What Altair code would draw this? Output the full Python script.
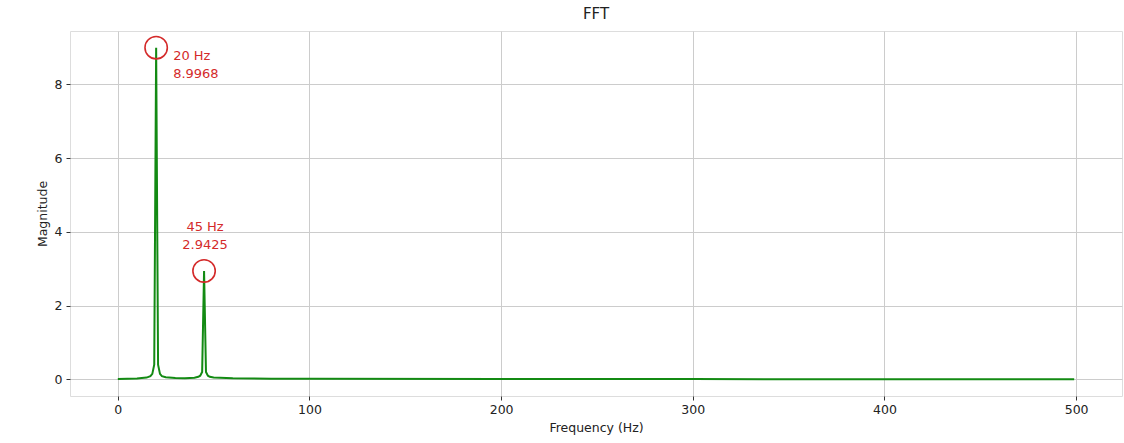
import altair as alt
import pandas as pd

# Spectrum (frequency in Hz, magnitude)
freq = [0, 5, 10, 15, 17, 18, 19, 20, 21, 22, 23, 25, 30, 35, 40, 42, 43, 44, 45,
        46, 47, 48, 50, 60, 80, 100, 200, 300, 400, 499]
mag = [0.01, 0.015, 0.025, 0.05, 0.09, 0.15, 0.4, 8.9968, 0.4, 0.15, 0.09, 0.06, 0.035,
       0.03, 0.045, 0.07, 0.1, 0.2, 2.9425, 0.2, 0.1, 0.07, 0.05, 0.03, 0.02, 0.015,
       0.01, 0.008, 0.007, 0.006]

peak_freq = [20, 45]
peak_mag = [8.9968, 2.9425]
peak_label = ["20 Hz\n8.9968", "45 Hz\n2.9425"]

x_ticks = [0, 100, 200, 300, 400, 500]
y_ticks = [0, 2, 4, 6, 8]

df = pd.DataFrame({"f": freq, "m": mag})
pk = pd.DataFrame({"f": peak_freq, "m": peak_mag, "label": peak_label})

FONT = "DejaVu Sans"
RED = "#d42a2a"

xs = alt.Scale(domain=[-24.95, 523.95], nice=False, zero=False)
ys = alt.Scale(domain=[-0.45, 9.45], nice=False, zero=False)

x_axis = alt.Axis(values=x_ticks, title="Frequency (Hz)", grid=True, gridColor="#cccccc",
                  gridWidth=1, tickSize=4, tickColor="#333", domain=False,
                  labelFontSize=12.5, titleFontSize=12.5, titleFontWeight="normal",
                  labelColor="#222", titleColor="#222", labelPadding=3, titlePadding=6,
                  labelFont=FONT, titleFont=FONT)
y_axis = alt.Axis(values=y_ticks, title="Magnitude", grid=True, gridColor="#cccccc",
                  gridWidth=1, tickSize=4, tickColor="#333", domain=False,
                  labelFontSize=12.5, titleFontSize=12.5, titleFontWeight="normal",
                  labelColor="#222", titleColor="#222", labelPadding=4, titlePadding=5,
                  labelFont=FONT, titleFont=FONT)

line = alt.Chart(df).mark_line(color="#138a13", strokeWidth=2).encode(
    x=alt.X("f:Q", scale=xs, axis=x_axis),
    y=alt.Y("m:Q", scale=ys, axis=y_axis),
)

circles = alt.Chart(pk).mark_point(shape="circle", filled=False, size=500, color=RED,
                                   strokeWidth=1.6, opacity=1).encode(
    x=alt.X("f:Q", scale=xs), y=alt.Y("m:Q", scale=ys))

lab1 = alt.Chart(pk.iloc[[0]]).mark_text(align="left", baseline="middle", dx=17, dy=8,
                                         lineBreak="\n", lineHeight=18, fontSize=13,
                                         font=FONT, color=RED).encode(
    x=alt.X("f:Q", scale=xs), y=alt.Y("m:Q", scale=ys), text="label:N")

lab2 = alt.Chart(pk.iloc[[1]]).mark_text(align="center", baseline="middle", dx=1, dy=-44,
                                         lineBreak="\n", lineHeight=18, fontSize=13,
                                         font=FONT, color=RED).encode(
    x=alt.X("f:Q", scale=xs), y=alt.Y("m:Q", scale=ys), text="label:N")

chart = alt.layer(line, circles, lab1, lab2).properties(
    width=1052, height=365,
    title=alt.TitleParams("FFT", fontSize=15, font=FONT, fontWeight="normal",
                          color="#222", offset=9),
    autosize=alt.AutoSizeParams(type="none"),
    padding={"left": 70, "top": 31, "right": 2, "bottom": 47},
).configure_view(stroke="#333", strokeWidth=1.2).configure(background="white")

chart.save("out.html", embed_options={"renderer": "svg", "actions": False})
